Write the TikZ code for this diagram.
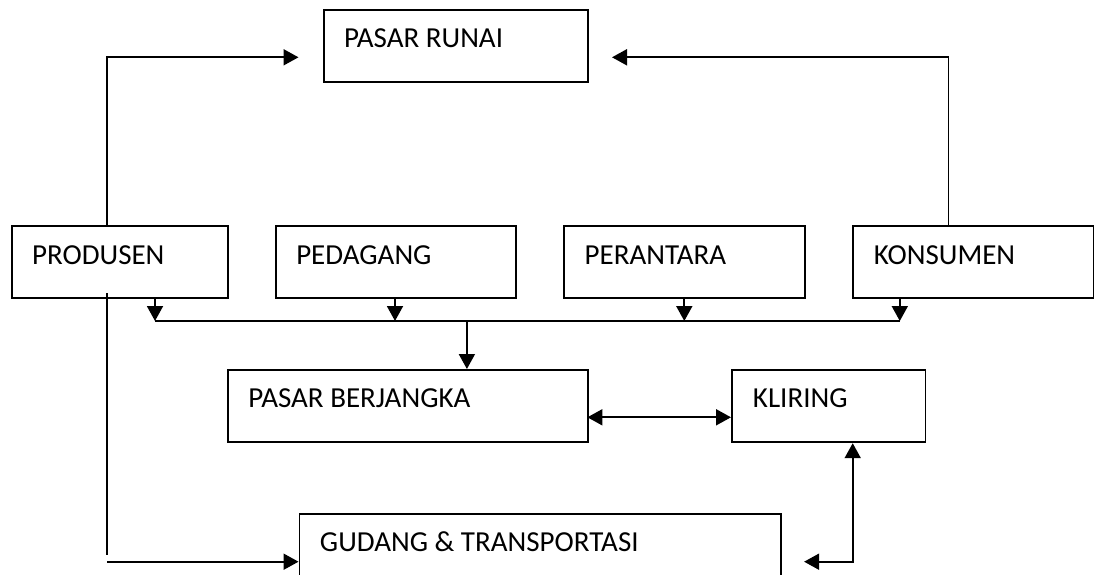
\documentclass[tikz,border=0pt]{standalone}
\usepackage{fontspec}
\setmainfont{Carlito}
\usetikzlibrary{arrows.meta,calc}
\begin{document}
\begin{tikzpicture}[x=1pt,y=-1pt,line width=1.9pt,
  box/.style={draw,rectangle,inner sep=0pt,anchor=north west},
  lbl/.style={anchor=base west,inner sep=0pt,font=\fontsize{29}{34}\selectfont},
  arr/.style={-{Triangle[length=15pt,width=16pt]}},
  arrb/.style={{Triangle[length=15pt,width=16pt]}-{Triangle[length=15pt,width=16pt]}}]
\useasboundingbox (0,0) rectangle (1094,575);
\clip (0,0) rectangle (1094,575);
% boxes
\node[box,minimum width=264.8pt,minimum height=71.7pt] (runai) at (322.6,9.3) {};
\node[box,minimum width=216.6pt,minimum height=72.3pt] (prod) at (10.7,225) {};
\node[box,minimum width=239.9pt,minimum height=72.3pt] (ped) at (274.8,225) {};
\node[box,minimum width=241.4pt,minimum height=72.3pt] (per) at (562.7,225) {};
\node[box,minimum width=241pt,minimum height=72.3pt] (kon) at (852,225) {};
\node[box,minimum width=360.4pt,minimum height=72.3pt] (pb) at (227,369) {};
\node[box,minimum width=193.5pt,minimum height=72.3pt] (kl) at (731,369) {};
\node[box,minimum width=481.5pt,minimum height=90pt] (gud) at (298.5,513.3) {};
% labels
\node[lbl] at ($(runai.north west)+(20.5,38.4)$) {PASAR RUNAI};
\node[lbl] at ($(prod.north west)+(20.5,39)$) {PRODUSEN};
\node[lbl] at ($(ped.north west)+(20.5,39)$) {PEDAGANG};
\node[lbl] at ($(per.north west)+(21,39)$) {PERANTARA};
\node[lbl] at ($(kon.north west)+(21,39)$) {KONSUMEN};
\node[lbl] at ($(pb.north west)+(20.5,38.7)$) {PASAR BERJANGKA};
\node[lbl] at ($(kl.north west)+(21,38.7)$) {KLIRING};
\node[lbl] at ($(gud.north west)+(20.5,38.4)$) {GUDANG \& TRANSPORTASI};
% coordinates
\coordinate (pa) at (107,57.3);
\coordinate (paend) at (298.5,57.3);
\coordinate (ka) at (948.5,57.3);
\coordinate (kaend) at (612,57.3);
\coordinate (bus1) at (155,321);
\coordinate (bus2) at (395,321);
\coordinate (bus3) at (684.3,321);
\coordinate (bus4) at (899.8,321);
\coordinate (busm) at (466.9,321);
\coordinate (pbk1) at (587.4,417.3);
\coordinate (pbk2) at (731,417.3);
\coordinate (kg) at (852.7,561.7);
\coordinate (kgend) at (804.1,561.7);
\coordinate (pg) at (107,555);
\coordinate (pg2) at (107,561.7);
% connectors
\draw[arr] (prod.north -| pa) -- (pa) -- (paend);
\draw[arr] (kon.north -| ka) -- (ka) -- (kaend);
\draw (bus1) -- (bus4);
\draw[arr] (prod.south -| bus1) -- (bus1);
\draw[arr] (ped.south -| bus2) -- (bus2);
\draw[arr] (per.south -| bus3) -- (bus3);
\draw[arr] (kon.south -| bus4) -- (bus4);
\draw[arr] (busm) -- (pb.north -| busm);
\draw[arrb] (pbk1) -- (pbk2);
\draw[arrb] (kl.south -| kg) -- (kg) -- (kgend);
\draw ([yshift=6pt]prod.south -| pg) -- (pg);
\draw[arr] (pg2) -- (gud.west |- pg2);
\end{tikzpicture}
\end{document}
